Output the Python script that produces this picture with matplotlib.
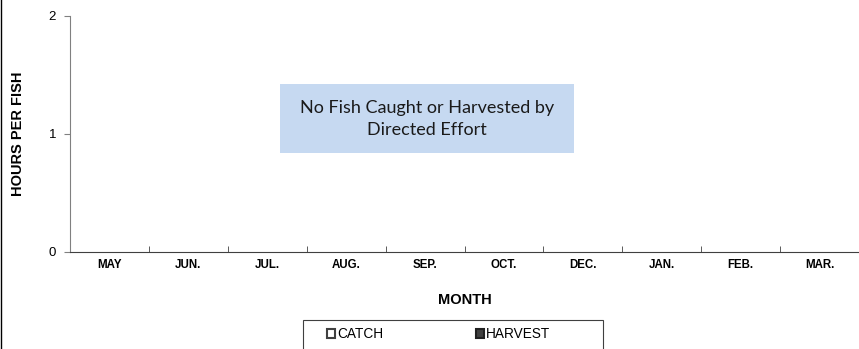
import numpy as np
import matplotlib.pyplot as plt
from matplotlib.patches import Patch, Rectangle
from matplotlib.lines import Line2D

months = ['MAY', 'JUN.', 'JUL.', 'AUG.', 'SEP.', 'OCT.', 'DEC.', 'JAN.', 'FEB.', 'MAR.']
catch = [0, 0, 0, 0, 0, 0, 0, 0, 0, 0]
harvest = [0, 0, 0, 0, 0, 0, 0, 0, 0, 0]
yticks = [0, 1, 2]
note = 'No Fish Caught or Harvested by\nDirected Effort'

plt.rcParams['font.family'] = ['Liberation Sans', 'DejaVu Sans']

fig = plt.figure(figsize=(8.59, 3.49), dpi=100)
ax = fig.add_axes([70 / 859, 97 / 349, 789 / 859, 236 / 349])

x = np.arange(len(months))
w = 0.35
ax.bar(x - w / 2, catch, w, color='white', edgecolor='#404040', linewidth=0)
ax.bar(x + w / 2, harvest, w, color='#404040', edgecolor='#404040', linewidth=0)

ax.set_xlim(-0.5, len(months) - 0.5)
ax.set_ylim(0, 2)
ax.set_yticks(yticks)
ax.set_yticklabels([str(v) for v in yticks], fontsize=9.5)
ax.set_xticks(x)
ax.set_xticklabels(months, fontsize=8.3, fontweight='bold')
ax.set_xticks(np.arange(len(months) + 1) - 0.5, minor=True)
ax.tick_params(axis='x', which='major', length=0, pad=5)
ax.tick_params(axis='x', which='minor', direction='in', length=4, color='#404040')
ax.tick_params(axis='y', direction='out', length=4, color='#808080', pad=6)

for s in ['top', 'right']:
    ax.spines[s].set_visible(False)
ax.spines['left'].set_color('#808080')
ax.spines['bottom'].set_color('#404040')

ax.set_ylabel('HOURS PER FISH', fontsize=10.5, fontweight='bold', labelpad=17)
ax.set_xlabel('MONTH', fontsize=10.5, fontweight='bold', labelpad=16)

# note box
fig.patches.append(Rectangle((280 / 859, 1 - 153 / 349), 294 / 859, 69 / 349,
                             transform=fig.transFigure, facecolor='#C6D9F1',
                             edgecolor='none', zorder=3))
fig.text(427 / 859, 1 - 119 / 349, note, ha='center', va='center',
         fontsize=13, family=['Lato', 'DejaVu Sans'], color='#1a1a1a',
         linespacing=1.5, zorder=4)

# legend frame (drawn separately so its width matches)
fig.patches.append(Rectangle((303 / 859, -0.05), 300 / 859, 1 - 320 / 349 + 0.05,
                             transform=fig.transFigure, facecolor='white',
                             edgecolor='#404040', linewidth=0.8, zorder=2))

handles = [Patch(facecolor='white', edgecolor='#404040', linewidth=1.5, label='CATCH'),
           Patch(facecolor='#404040', edgecolor='#202020', linewidth=1.5, label='HARVEST')]
leg = fig.legend(handles=handles, loc='center left', ncol=2,
                 bbox_to_anchor=(327 / 859, 1 - 334 / 349),
                 fontsize=9.8, frameon=False,
                 handlelength=0.6, handleheight=0.6, handletextpad=0.15,
                 borderpad=0, borderaxespad=0, columnspacing=6.8)

fig.add_artist(Line2D([0.0015, 0.0015], [0, 1], transform=fig.transFigure,
                      color='black', linewidth=1))

fig.savefig('out.png', dpi=100)
